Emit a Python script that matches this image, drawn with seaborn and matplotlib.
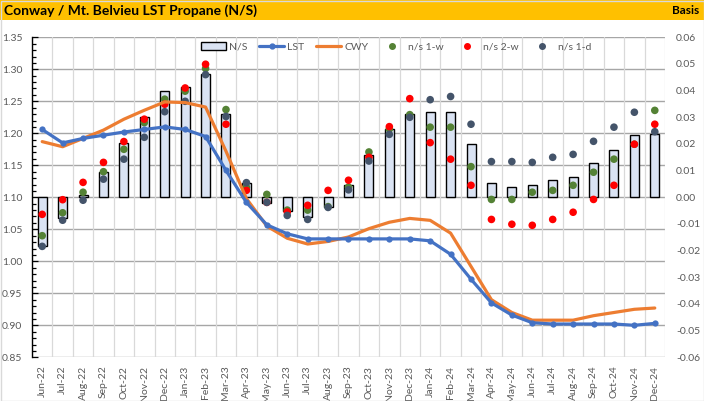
import numpy as np
import pandas as pd
import matplotlib
matplotlib.use("Agg")
import matplotlib.pyplot as plt
from matplotlib.patches import Patch, Rectangle
from matplotlib.lines import Line2D
import seaborn as sns

sns.set_style("white")
plt.rcParams['font.family'] = ['Lato', 'DejaVu Sans']
plt.rcParams['axes.unicode_minus'] = False

### Data
months = ['Jun-22', 'Jul-22', 'Aug-22', 'Sep-22', 'Oct-22', 'Nov-22', 'Dec-22',
          'Jan-23', 'Feb-23', 'Mar-23', 'Apr-23', 'May-23', 'Jun-23', 'Jul-23',
          'Aug-23', 'Sep-23', 'Oct-23', 'Nov-23', 'Dec-23', 'Jan-24', 'Feb-24',
          'Mar-24', 'Apr-24', 'May-24', 'Jun-24', 'Jul-24', 'Aug-24', 'Sep-24',
          'Oct-24', 'Nov-24', 'Dec-24']

ns = [-0.0184, -0.0079, 0.0008, 0.0093, 0.0203, 0.0300, 0.0400, 0.0413, 0.0461,
      0.0311, 0.0055, -0.0023, -0.0053, -0.0073, -0.0036, 0.0045, 0.0158, 0.0255,
      0.0311, 0.0319, 0.0319, 0.0199, 0.0053, 0.0038, 0.0045, 0.0064, 0.0075,
      0.0128, 0.0176, 0.0233, 0.0236]

lst = [1.206, 1.185, 1.192, 1.197, 1.202, 1.206, 1.210, 1.206, 1.195, 1.142,
       1.092, 1.057, 1.043, 1.035, 1.035, 1.035, 1.035, 1.035, 1.035, 1.032,
       1.011, 0.972, 0.935, 0.916, 0.904, 0.902, 0.902, 0.902, 0.902, 0.900, 0.903]

cwy = [1.187, 1.179, 1.192, 1.205, 1.222, 1.236, 1.249, 1.248, 1.241, 1.172,
       1.098, 1.055, 1.036, 1.027, 1.031, 1.038, 1.051, 1.061, 1.067, 1.064,
       1.044, 0.992, 0.940, 0.920, 0.908, 0.908, 0.908, 0.915, 0.920, 0.925, 0.927]

ns_1w = [-0.0144, -0.0058, 0.0019, 0.0096, 0.0180, 0.0280, 0.0368, 0.0398, 0.0483,
         0.0329, 0.0038, 0.0011, -0.0048, -0.0048, -0.0035, 0.0038, 0.0170, 0.0256,
         0.0310, 0.0263, 0.0263, 0.0115, -0.0008, -0.0008, 0.0019, 0.0026, 0.0045,
         0.0094, 0.0143, 0.0199, 0.0326]

ns_2w = [-0.0064, -0.0009, 0.0056, 0.0131, 0.0209, 0.0293, 0.0349, 0.0410, 0.0499,
         0.0274, 0.0026, -0.0019, -0.0055, -0.0030, 0.0026, 0.0064, 0.0150, 0.0265,
         0.0370, 0.0205, 0.0143, 0.0045, -0.0083, -0.0101, -0.0105, -0.0083, -0.0056,
         -0.0008, 0.0045, 0.0199, 0.0274]

ns_1d = [-0.0184, -0.0086, -0.0011, 0.0068, 0.0143, 0.0225, 0.0321, 0.0360, 0.0460,
         0.0303, 0.0055, -0.0019, -0.0068, -0.0083, -0.0038, 0.0028, 0.0136, 0.0236,
         0.0300, 0.0366, 0.0378, 0.0274, 0.0134, 0.0134, 0.0131, 0.0150, 0.0161,
         0.0210, 0.0263, 0.0319, 0.0246]

df = pd.DataFrame({'month': months, 'ns': ns, 'lst': lst, 'cwy': cwy,
                   'ns_1w': ns_1w, 'ns_2w': ns_2w, 'ns_1d': ns_1d})
df['pos'] = np.arange(len(df))

C_BAR = '#DAE3F3'
C_LST = '#4472C4'
C_CWY = '#ED7D31'
C_1W = '#548235'
C_2W = '#FF0000'
C_1D = '#44546A'
C_TXT = '#595959'

fig = plt.figure(figsize=(7.04, 4.01), dpi=100)
ax1 = fig.add_axes([32 / 704, 1 - 357.3 / 401, 633 / 704, 320 / 401])
ax2 = ax1.twinx()

# bars + dots on the basis axis
sns.barplot(data=df, x='pos', y='ns', ax=ax2, color=C_BAR, edgecolor='black',
            linewidth=1.0, width=0.44, saturation=1)
for col, c in [('ns_1w', C_1W), ('ns_2w', C_2W), ('ns_1d', C_1D)]:
    sns.scatterplot(data=df, x='pos', y=col, ax=ax2, color=c, s=30,
                    edgecolor='none', zorder=5)

# price lines on left axis, drawn above the bars
ax1.set_zorder(ax2.get_zorder() + 1)
ax1.patch.set_visible(False)
sns.lineplot(data=df, x='pos', y='cwy', ax=ax1, color=C_CWY, linewidth=2.3)
sns.lineplot(data=df, x='pos', y='lst', ax=ax1, color=C_LST, linewidth=2.3,
             marker='o', markersize=4.5, markeredgewidth=0)

n = len(months)
for ax in (ax1, ax2):
    ax.set_xlim(-0.5, n - 0.5)
    ax.set_xlabel('')
    ax.set_ylabel('')
ax1.set_ylim(0.85, 1.35)
ax2.set_ylim(-0.06, 0.06)

ax1.set_yticks(np.arange(0.85, 1.351, 0.05))
ax1.set_yticks(np.arange(0.85, 1.351, 0.01), minor=True)
ax1.set_yticklabels([f'{v:.2f}' for v in np.arange(0.85, 1.351, 0.05)])
ax2.set_yticks(np.arange(-0.06, 0.061, 0.01))
ax2.set_yticklabels([f'{v:.2f}' for v in np.arange(-0.06, 0.061, 0.01)])

ax1.set_xticks(np.arange(n))
ax1.set_xticklabels(months, rotation=90)
ax2.set_xticks(np.arange(n))

# grid: horizontal at left major ticks, vertical at category edges
for v in np.arange(0.85, 1.351, 0.05):
    ax2.axhline(ax2.get_ylim()[0] + (v - 0.85) / 0.5 * 0.12, color='#A6A6A6',
                lw=1.0, zorder=0)
for b in np.arange(-0.5, n, 1.0):
    ax2.axvline(b, color='#D9D9D9', lw=0.9, zorder=0)

for ax in (ax1, ax2):
    for s in ['top', 'right', 'bottom', 'left']:
        ax.spines[s].set_visible(False)
ax1.spines['left'].set_visible(True)
ax1.spines['left'].set_color('black')
ax1.spines['left'].set_linewidth(1.0)

ax1.tick_params(axis='y', which='major', direction='in', length=4, width=0.9,
                color='black', labelsize=7.5, labelcolor=C_TXT, pad=7)
ax1.tick_params(axis='y', which='minor', direction='in', length=3, width=0.9,
                color='black')
ax1.tick_params(axis='x', length=0, labelsize=7.5, labelcolor=C_TXT, pad=6)
ax2.tick_params(axis='y', length=0, labelsize=7.5, labelcolor=C_TXT, pad=8)
ax2.tick_params(axis='x', length=0, labelbottom=False)

# legend
handles = [
    Patch(facecolor=C_BAR, edgecolor='black', linewidth=1.0),
    Line2D([], [], color=C_LST, lw=2.3, marker='o', markersize=3.5),
    Line2D([], [], color=C_CWY, lw=2.3),
    Line2D([], [], color=C_1W, lw=0, marker='o', markersize=4),
    Line2D([], [], color=C_2W, lw=0, marker='o', markersize=4),
    Line2D([], [], color=C_1D, lw=0, marker='o', markersize=4),
]
labels = ['N/S', 'LST', 'CWY', 'n/s 1-w', 'n/s 2-w', 'n/s 1-d']
fig.legend(handles, labels, loc='center', bbox_to_anchor=(0.563, 1 - 47 / 401),
           ncol=6, frameon=False, fontsize=7.5, labelcolor=C_TXT,
           handlelength=2.4, handleheight=0.8, columnspacing=1.1, handletextpad=0.3)

# title bar
fig.patches.append(Rectangle((0, 1 - 20 / 401), 1, 20 / 401, transform=fig.transFigure,
                             facecolor='#FFC000', edgecolor='none', zorder=0))
fig.text(4 / 704, 1 - 11 / 401, 'Conway / Mt. Belvieu LST Propane (N/S)',
         fontsize=10, fontweight='bold', color='black', va='center', ha='left')
fig.text(699 / 704, 1 - 11 / 401, 'Basis', fontsize=8.5, fontweight='bold',
         color='black', va='center', ha='right')
fig.patches.append(Rectangle((0.5 / 704, 0.5 / 401), 703 / 704, 400 / 401,
                             transform=fig.transFigure, facecolor='none',
                             edgecolor='#D9D9D9', lw=1.0))

fig.savefig('out.png', dpi=100)
